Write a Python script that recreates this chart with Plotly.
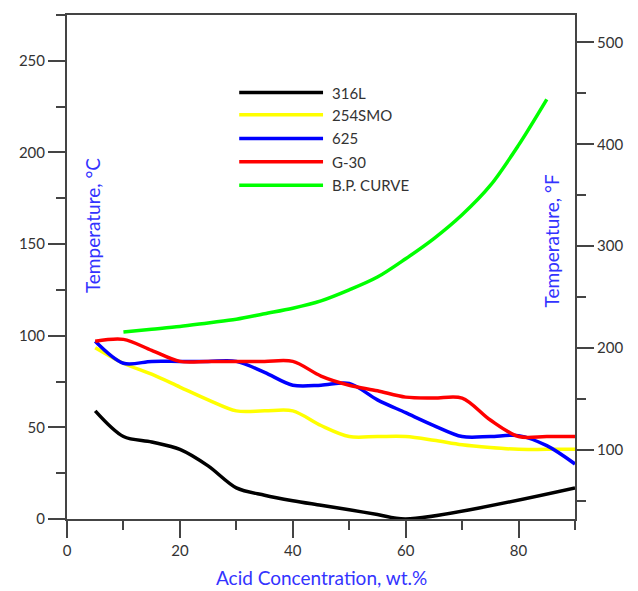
import plotly.graph_objects as go

# ---- data ----
x_316L = [5, 10, 15, 20, 25, 30, 35, 40, 45, 50, 55, 60, 90]
y_316L = [59, 45, 42, 38, 29, 17, 13, 10, 7.5, 5, 2.5, 0, 17]

x_254 = [5, 10, 15, 20, 25, 30, 35, 40, 45, 50, 55, 60, 65, 70, 75, 80, 85, 90]
y_254 = [93.5, 85, 79, 72, 65, 59, 59, 59, 51, 45, 45, 45, 43, 40.5, 39, 38, 38, 38]

x_625 = [5, 10, 15, 20, 25, 30, 35, 40, 45, 50, 55, 60, 65, 70, 75, 80, 85, 90]
y_625 = [97, 85, 86, 86, 86, 86, 80, 73, 73, 74, 65, 58, 51, 45, 45, 45.5, 40, 30]

x_g30 = [5, 10, 15, 20, 25, 30, 35, 40, 45, 50, 55, 60, 65, 70, 75, 80, 85, 90]
y_g30 = [97, 98, 92, 86, 86, 86, 86, 86, 78, 73, 70, 66.5, 66, 66, 54, 45, 45, 45]

x_bp = [10, 15, 20, 25, 30, 35, 40, 45, 50, 55, 60, 65, 70, 75, 80, 85]
y_bp = [102, 103.5, 105, 107, 109, 112, 115, 119, 125, 132, 142, 153, 166, 182, 204, 229]

series_names = ["316L", "254SMO", "625", "G-30", "B.P. CURVE"]
series_colors = ["#000000", "#ffff00", "#0000ff", "#ff0000", "#00ff00"]
series_x = [x_316L, x_254, x_625, x_g30, x_bp]
series_y = [y_316L, y_254, y_625, y_g30, y_bp]

x_ticks = [0, 20, 40, 60, 80]
c_ticks = [0, 50, 100, 150, 200, 250]
f_ticks = [100, 200, 300, 400, 500]

C_MAX = 275
F_MIN = 32
F_MAX = C_MAX * 1.8 + 32

fig = go.Figure()
for nm, col, xs, ys in zip(series_names, series_colors, series_x, series_y):
    fig.add_trace(go.Scatter(x=xs, y=ys, mode="lines", name=nm,
                             line=dict(color=col, width=3.5, shape="spline", smoothing=0.9),
                             showlegend=False))
# invisible trace for right axis
fig.add_trace(go.Scatter(x=[0], y=[F_MIN], yaxis="y2", mode="markers",
                         marker=dict(opacity=0), showlegend=False, hoverinfo="skip"))

axis_col = "#444444"
tick_font = dict(family="Lato, sans-serif", size=15, color="#333333")

fig.update_layout(
    width=630, height=583,
    margin=dict(l=59, r=63, t=5, b=72),
    paper_bgcolor="white", plot_bgcolor="white",
    xaxis=dict(range=[0, 90], tickvals=x_ticks, showgrid=False, zeroline=False,
               showline=True, linecolor=axis_col, linewidth=2, mirror=True,
               ticks="outside", ticklen=17, tickwidth=2, tickcolor=axis_col,
               minor=dict(dtick=10, ticks="outside", ticklen=9, tickwidth=2, tickcolor=axis_col),
               tickfont=tick_font),
    yaxis=dict(range=[0, C_MAX], tickvals=c_ticks, showgrid=False, zeroline=False,
               showline=True, linecolor=axis_col, linewidth=2,
               ticks="outside", ticklen=17, tickwidth=2, tickcolor=axis_col,
               minor=dict(dtick=25, ticks="outside", ticklen=9, tickwidth=2, tickcolor=axis_col),
               tickfont=tick_font),
    yaxis2=dict(range=[F_MIN, F_MAX], tickvals=f_ticks, overlaying="y", side="right",
                showgrid=False, zeroline=False,
                showline=True, linecolor=axis_col, linewidth=2,
                ticks="outside", ticklen=17, tickwidth=2, tickcolor=axis_col,
                minor=dict(tick0=0, dtick=50, ticks="outside", ticklen=9, tickwidth=2, tickcolor=axis_col),
                tickfont=tick_font),
    showlegend=False,
)

title_font = dict(family="Lato, sans-serif", size=19, color="#3333ff")
fig.add_annotation(text="Acid Concentration, wt.%", xref="paper", yref="paper",
                   x=0.5, y=-0.117, xanchor="center", yanchor="middle",
                   showarrow=False, font=title_font)
fig.add_annotation(text="Temperature, °C", xref="paper", yref="paper",
                   x=0.049, y=0.583, xanchor="center", yanchor="middle", textangle=-90,
                   showarrow=False, font=title_font)
fig.add_annotation(text="Temperature, °F", xref="paper", yref="paper",
                   x=0.953, y=0.551, xanchor="center", yanchor="middle", textangle=-90,
                   showarrow=False, font=title_font)

# custom legend (long line samples as in the reference)
leg_y = [0.846, 0.802, 0.755, 0.709, 0.662]
for nm, col, ly in zip(series_names, series_colors, leg_y):
    fig.add_shape(type="line", xref="paper", yref="paper", x0=0.339, x1=0.504,
                  y0=ly, y1=ly, line=dict(color=col, width=3.5))
    fig.add_annotation(text=nm, xref="paper", yref="paper", x=0.518, y=ly,
                       xanchor="left", yanchor="middle", showarrow=False,
                       font=dict(family="Lato, sans-serif", size=15, color="#333333"))

fig.write_html("out.html")
